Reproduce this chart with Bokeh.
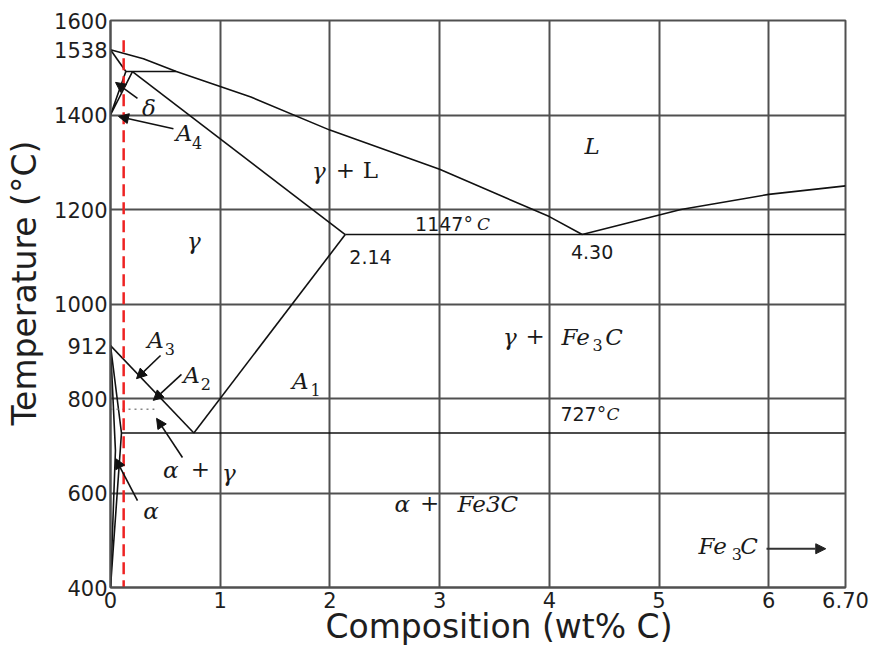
from bokeh.plotting import figure
from bokeh.models import FixedTicker, ColumnDataSource, Arrow, NormalHead, Range1d
from bokeh.core.properties import value
from bokeh.embed import file_html
from bokeh.resources import INLINE

# ---------------- data (wt% C, temperature in degC) ----------------
x_ticks = [0, 1, 2, 3, 4, 5, 6, 6.7]
x_tick_labels = ["0", "1", "2", "3", "4", "5", "6", "6.70"]
y_ticks = [400, 600, 800, 912, 1000, 1200, 1400, 1538, 1600]
y_tick_labels = ["400", "600", "800", "912", "1000", "1200", "1400", "1538", "1600"]
x_grid = [1, 2, 3, 4, 5, 6]
y_grid = [600, 800, 1000, 1200, 1400]

liquidus_c = [0.0, 0.3, 0.6, 1.28, 2.0, 3.0, 4.0, 4.30]
liquidus_t = [1538, 1519, 1492, 1438, 1368, 1285, 1185, 1147]
hyper_liquidus_c = [4.30, 5.2, 6.0, 6.70]
hyper_liquidus_t = [1147, 1200, 1232, 1250]
delta_solidus_c = [0.0, 0.14]
delta_solidus_t = [1538, 1492]
delta_gamma_c = [0.14, 0.0, 0.20]
delta_gamma_t = [1492, 1400, 1492]
peritectic_c = [0.14, 0.60]
peritectic_t = [1492, 1492]
gamma_solidus_c = [0.20, 2.14]
gamma_solidus_t = [1492, 1147]
eutectic_c = [2.14, 6.70]
eutectic_t = [1147, 1147]
acm_c = [2.14, 0.76]
acm_t = [1147, 727]
a3_c = [0.0, 0.76]
a3_t = [912, 727]
eutectoid_c = [0.10, 6.70]
eutectoid_t = [727, 727]
alpha_c = [0.0, 0.10, 0.0]
alpha_t = [912, 727, 400]
alpha_inner_c = [0.0, 0.045, 0.0]
alpha_inner_t = [912, 690, 400]
curie_c = [0.0, 0.40]
curie_t = [777, 777]
marker_c = [0.12, 0.12]
marker_t = [1558, 400]

# ---------------- figure ----------------
p = figure(width=870, height=650, title=None,
           min_border_left=110, min_border_right=25,
           min_border_top=20, min_border_bottom=63,
           x_range=Range1d(0, 6.7), y_range=Range1d(400, 1600),
           output_backend="svg", toolbar_location=None,
           background_fill_color="white", border_fill_color="white")

p.outline_line_color = "#505050"
p.outline_line_width = 2

NB = "\u00a0" * 4  # the reference's axis titles sit slightly off-centre
for ax in (p.xaxis, p.yaxis):
    ax.axis_line_color = "#505050"
    ax.axis_line_width = 2
    ax.major_tick_line_color = None
    ax.minor_tick_line_color = None
    ax.major_tick_out = 0
    ax.major_tick_in = 0
    ax.major_label_text_font = "DejaVu Sans"
    ax.major_label_text_font_size = "21px"
    ax.major_label_text_color = "#1e1e1e"
    ax.axis_label_text_font = "DejaVu Sans"
    ax.axis_label_text_font_style = "normal"
    ax.axis_label_text_font_size = "33px"
    ax.axis_label_text_color = "#1e1e1e"

p.xaxis.ticker = FixedTicker(ticks=x_ticks)
p.xaxis.major_label_overrides = dict(zip(x_ticks, x_tick_labels))
p.yaxis.ticker = FixedTicker(ticks=y_ticks)
p.yaxis.major_label_overrides = dict(zip(y_ticks, y_tick_labels))
p.xaxis.major_label_standoff = 4
p.yaxis.major_label_standoff = 3
p.xaxis.axis_label = NB + "Composition (wt% C)"
p.yaxis.axis_label = NB + "Temperature (°C)"
p.xaxis.axis_label_standoff = -4
p.yaxis.axis_label_standoff = 7

p.xgrid.ticker = FixedTicker(ticks=x_grid)
p.ygrid.ticker = FixedTicker(ticks=y_grid)
for g in (p.xgrid, p.ygrid):
    g.grid_line_color = "#505050"
    g.grid_line_width = 2
    g.grid_line_alpha = 1.0

# ---------------- phase lines ----------------
phase = [(liquidus_c, liquidus_t), (hyper_liquidus_c, hyper_liquidus_t),
         (delta_solidus_c, delta_solidus_t), (delta_gamma_c, delta_gamma_t),
         (peritectic_c, peritectic_t), (gamma_solidus_c, gamma_solidus_t),
         (eutectic_c, eutectic_t), (acm_c, acm_t), (a3_c, a3_t),
         (eutectoid_c, eutectoid_t), (alpha_c, alpha_t),
         (alpha_inner_c, alpha_inner_t)]
for xs, ys in phase:
    p.line(xs, ys, line_color="#111111", line_width=1.6)

p.line(curie_c, curie_t, line_color="#888888", line_width=1.5, line_dash="2 4")
p.line(marker_c, marker_t, line_color="#ee2222", line_width=2.5, line_dash="12 6")

# ---------------- labels ----------------
def add_text(xs, ys, texts, font, style, size):
    src = ColumnDataSource(dict(x=xs, y=ys, text=texts))
    p.text(x="x", y="y", text="text", source=src, text_font=value(font),
           text_font_style=style, text_font_size=size, text_color="#1a1a1a",
           text_align="center", text_baseline="middle")

# italic math letters
add_text([0.35, 0.67, 1.90, 4.39, 0.76, 3.64, 4.24, 4.59, 0.41, 0.74, 1.73,
          0.55, 1.08, 0.37, 2.66, 3.44, 5.49, 5.82],
         [1414, 1361, 1282, 1335, 1134, 931, 931, 931, 923, 849, 836,
          648, 643, 561, 576, 576, 487, 487],
         ["δ", "A", "γ", "L", "γ", "γ", "Fe", "C", "A", "A", "A",
          "α", "γ", "α", "α", "Fe3C", "Fe", "C"],
         "DejaVu Serif", "italic", "23px")
# upright math symbols
add_text([2.14, 2.37, 3.87, 0.82, 2.91],
         [1284, 1284, 933, 650, 578],
         ["+", "L", "+", "+", "+"],
         "DejaVu Serif", "normal", "23px")
# subscripts
add_text([0.79, 4.44, 0.54, 0.87, 1.87, 5.71],
         [1340, 914, 904, 830, 819, 470],
         ["4", "3", "3", "2", "1", "3"],
         "DejaVu Serif", "normal", "16px")
# numeric annotations
add_text([3.04, 2.37, 4.39, 4.31],
         [1170, 1100, 1109, 768],
         ["1147°", "2.14", "4.30", "727°"],
         "DejaVu Sans", "normal", "19px")
add_text([3.40, 4.58], [1170, 768], ["C", "C"], "DejaVu Serif", "italic", "17px")

# ---------------- arrows ----------------
arrow_src = ColumnDataSource(dict(
    x0=[0.246, 0.574, 0.456, 0.647, 0.656, 0.246],
    y0=[1435, 1371, 891, 851, 675, 584],
    x1=[0.046, 0.073, 0.237, 0.39, 0.42, 0.046],
    y1=[1469, 1397, 842, 796, 758, 673]))
p.add_layout(Arrow(source=arrow_src, x_start="x0", y_start="y0", x_end="x1", y_end="y1",
                   line_color="#111111", line_width=1.6,
                   end=NormalHead(size=10, fill_color="#111111", line_color="#111111")))
p.add_layout(Arrow(x_start=5.98, y_start=482, x_end=6.52, y_end=482,
                   line_color="#333333", line_width=2,
                   end=NormalHead(size=10, fill_color="#222222", line_color="#222222")))

open("out.html", "w").write(file_html(p, INLINE))
